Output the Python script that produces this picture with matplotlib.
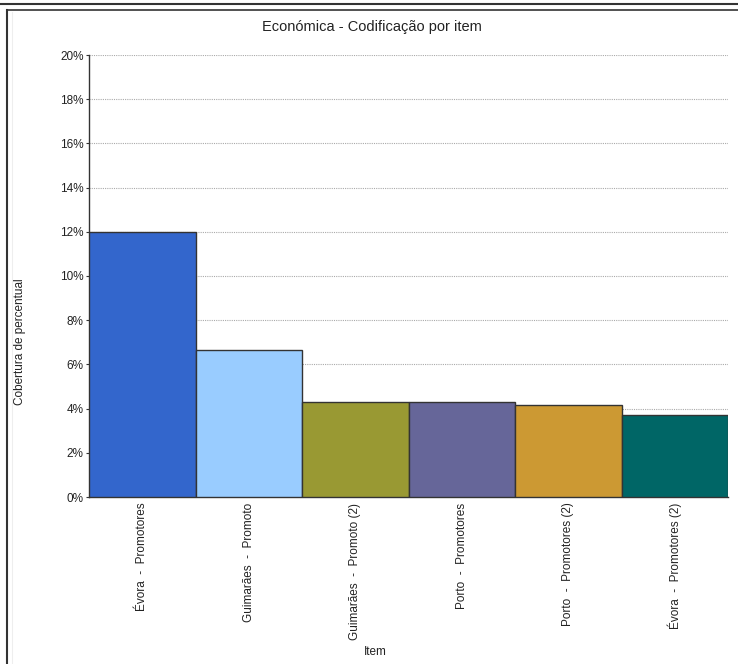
import matplotlib
matplotlib.use("Agg")
import matplotlib.pyplot as plt
from matplotlib.lines import Line2D
from matplotlib.ticker import FuncFormatter

items = [
    "Évora  -  Promotores",
    "Guimarães  -  Promoto",
    "Guimarães  -  Promoto (2)",
    "Porto  -  Promotores",
    "Porto  -  Promotores (2)",
    "Évora  -  Promotores (2)",
]
coverage = [12.0, 6.65, 4.31, 4.31, 4.15, 3.69]
colors = ["#3366CC", "#99CCFF", "#999933", "#666699", "#CC9933", "#006666"]

plt.rcParams["font.family"] = ["Liberation Sans", "DejaVu Sans"]

W, H = 738, 664
fig = plt.figure(figsize=(W / 100, H / 100), dpi=100)
ax = fig.add_axes([89 / W, 1 - 497 / H, (728 - 89) / W, (497 - 55) / H])

x = list(range(len(items)))
ax.bar(x, coverage, width=1.0, color=colors, edgecolor="#333333", linewidth=1.0, zorder=3)

ax.set_xlim(-0.5, len(items) - 0.5)
ax.set_ylim(0, 20)
ax.set_yticks(range(0, 21, 2))
ax.yaxis.set_major_formatter(FuncFormatter(lambda v, p: f"{v:.0f}%"))
ax.grid(axis="y", linestyle=(0, (1, 1)), color="#aaaaaa", linewidth=0.8, zorder=0)

ax.set_xticks(x)
ax.set_xticklabels(items, rotation=90, fontsize=8.5, color="#222222")
ax.tick_params(axis="x", length=0, pad=4)
ax.tick_params(axis="y", length=2, width=0.8, labelsize=8.5, labelcolor="#222222", pad=2, color="#333333")

for side in ["top", "right"]:
    ax.spines[side].set_visible(False)
for side in ["left", "bottom"]:
    ax.spines[side].set_color("#333333")
    ax.spines[side].set_linewidth(1.0)

fig.text(372 / W, 1 - 27 / H, "Económica - Codificação por item", ha="center", va="center",
         fontsize=10.5, color="#222222")
fig.text(20 / W, 1 - 342 / H, "Cobertura de percentual", rotation=90, ha="center", va="center",
         fontsize=8.5, color="#222222")
fig.text(375 / W, 1 - 652 / H, "Item", ha="center", va="center", fontsize=8.5, color="#222222")

# panel frame
fig.add_artist(Line2D([0, 1], [1 - 4 / H, 1 - 4 / H], transform=fig.transFigure, color="#333333", lw=1.5))
fig.add_artist(Line2D([7 / W, 1], [1 - 10 / H, 1 - 10 / H], transform=fig.transFigure, color="#333333", lw=1.2))
fig.add_artist(Line2D([7 / W, 7 / W], [0, 1 - 10 / H], transform=fig.transFigure, color="#333333", lw=1.5))
fig.add_artist(Line2D([12 / W, 12 / W], [0, 1 - 12 / H], transform=fig.transFigure, color="#eeeeee", lw=0.8))

fig.savefig("out.png", dpi=100)
